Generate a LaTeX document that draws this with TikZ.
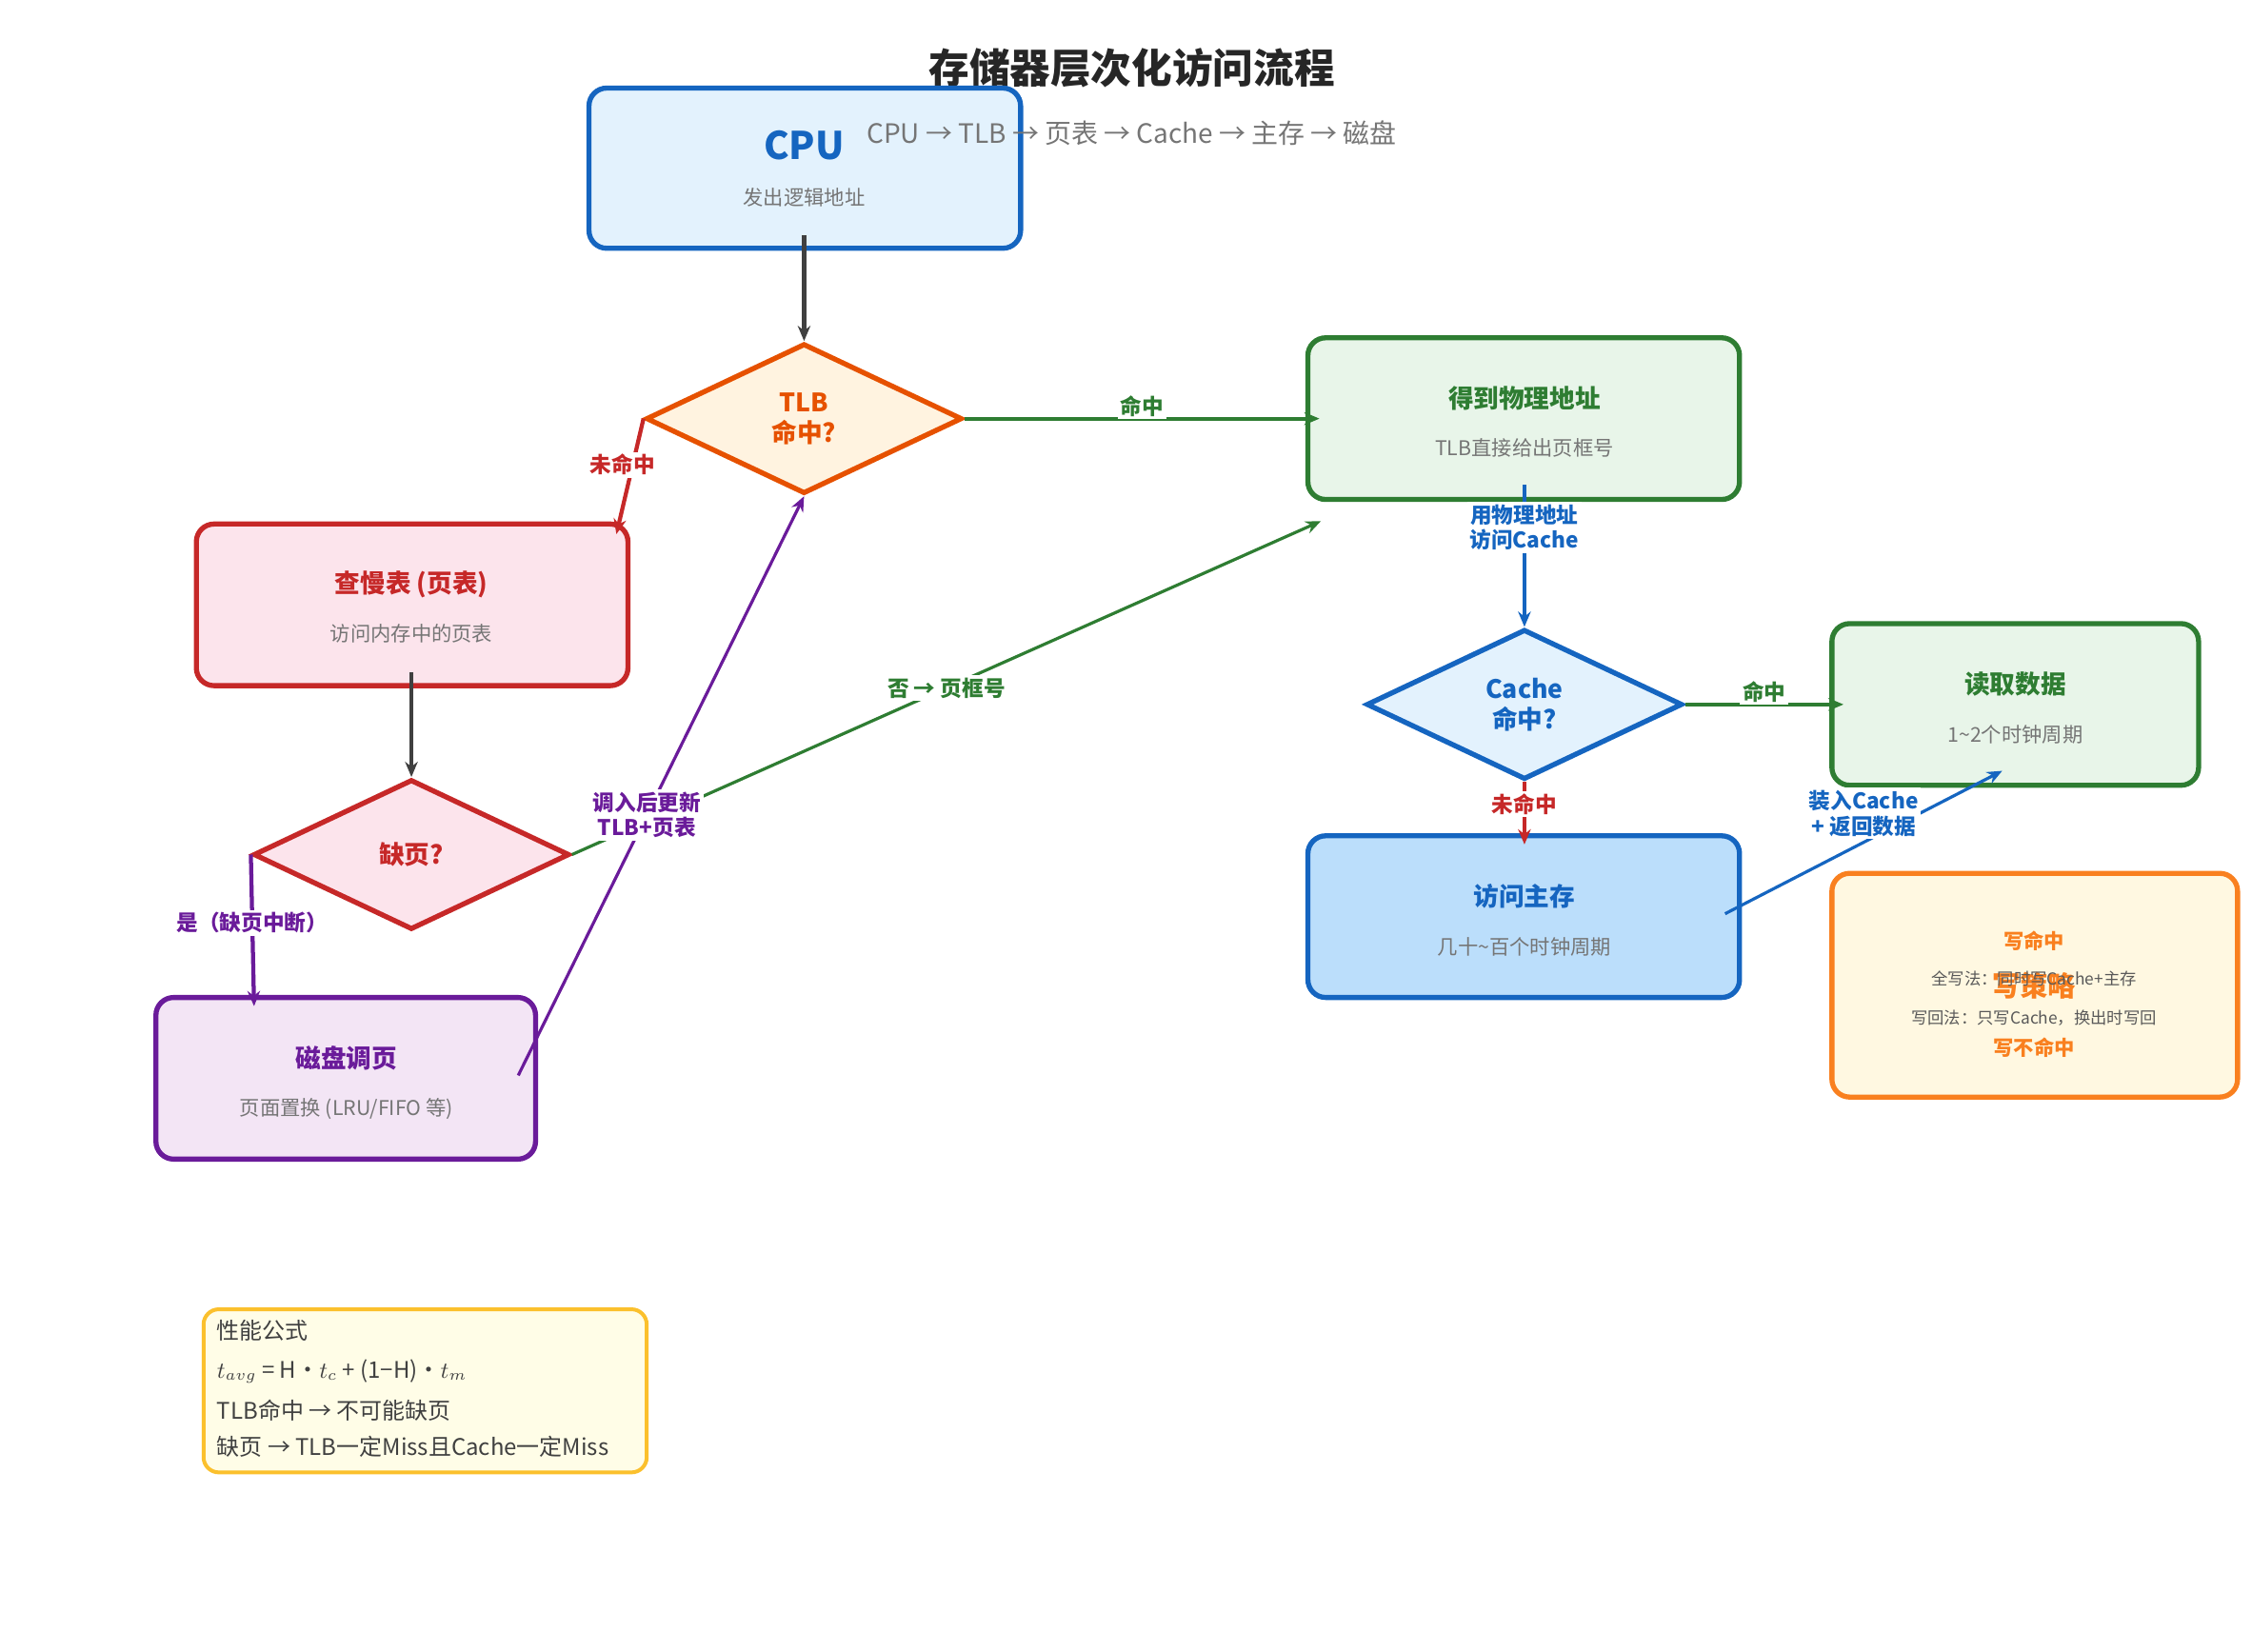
\documentclass[tikz,border=0pt]{standalone}
\usepackage{fontspec}
\setmainfont{Noto Sans CJK SC}
\usetikzlibrary{shapes.geometric,arrows.meta,calc}
\definecolor{cblue}{HTML}{1565C0}\definecolor{lblue}{HTML}{E3F2FD}\definecolor{mblue}{HTML}{BBDEFB}
\definecolor{cgreen}{HTML}{2E7D32}\definecolor{lgreen}{HTML}{E8F5E9}
\definecolor{cred}{HTML}{C62828}\definecolor{lred}{HTML}{FCE4EC}
\definecolor{corange}{HTML}{E65100}\definecolor{lorange}{HTML}{FFF3E0}
\definecolor{cpurple}{HTML}{6A1B9A}\definecolor{lpurple}{HTML}{F3E5F5}
\definecolor{cwo}{HTML}{F57F17}\definecolor{wo}{HTML}{F9801F}\definecolor{lwo}{HTML}{FFF8E1}
\definecolor{cyel}{HTML}{FBC02D}\definecolor{lyel}{HTML}{FFFDE7}
\definecolor{dgray}{HTML}{404040}\definecolor{tgray}{HTML}{757575}
\tikzset{
 box/.style={draw=#1,line width=2pt,rounded corners=7pt,inner sep=0pt},
 dia/.style={diamond,draw=#1,line width=2pt,aspect=2.1,inner sep=0pt,minimum width=4.38cm,minimum height=2.08cm,font=\fontsize{10}{12}\selectfont\bfseries,text=#1,align=center},
 ttl/.style={font=\fontsize{10}{12}\selectfont\bfseries,text=#1},
 sub/.style={font=\fontsize{8}{10}\selectfont,text=tgray},
 arr/.style={-{Stealth[length=6pt,width=5pt]},line width=1.6pt,draw=#1},
 lab/.style={fill=white,inner sep=1pt,font=\fontsize{8.5}{10}\selectfont\bfseries,text=#1,align=center},
}
\begin{document}
\begin{tikzpicture}[x=0.02cm,y=-0.02cm]
\useasboundingbox (0,0) rectangle (1560,1144);
\node[font=\fontsize{16}{18}\selectfont\bfseries,text=black!85] (title) at (784,47) {存储器层次化访问流程};
% CPU
\draw[box=cblue,fill=lblue] (408,61) rectangle (707,172);
\node[font=\fontsize{15}{17}\selectfont\bfseries,text=cblue] (cpu) at (557,101) {CPU};
\node[sub] (cpus) at (557,137) {发出逻辑地址};
\coordinate (cpub) at (557,163);
\node[font=\fontsize{10.5}{12}\selectfont,text=tgray] (subt) at (784,92) {CPU → TLB → 页表 → Cache → 主存 → 磁盘};
% TLB
\node[dia=corange,fill=lorange] (tlb) at (557,290) {TLB\\命中?};
% got physical
\draw[box=cgreen,fill=lgreen] (906,234) rectangle (1205,346);
\node[ttl=cgreen] (phys) at (1056,276) {得到物理地址};
\node[sub] (physs) at (1056,310) {TLB直接给出页框号};
\coordinate (physb) at (1056,336);
\coordinate (physl) at (914,290);
\coordinate (physbl) at (915,361);
% page table
\draw[box=cred,fill=lred] (136,363) rectangle (435,475);
\node[ttl=cred] (pt) at (285,405) {查慢表 (页表)};
\node[sub] (pts) at (285,439) {访问内存中的页表};
\coordinate (ptb) at (285,466);
\coordinate (ptt) at (427,370);
% page fault
\node[dia=cred,fill=lred] (pf) at (285,592) {缺页?};
% disk
\draw[box=cpurple,fill=lpurple] (108,691) rectangle (371,803);
\node[ttl=cpurple] (disk) at (240,733) {磁盘调页};
\node[sub] (disks) at (240,768) {页面置换 (LRU/FIFO 等)};
\coordinate (diskt) at (176,697);
\coordinate (diskr) at (359,745);
% cache
\node[dia=cblue,fill=lblue] (cache) at (1056,488) {Cache\\命中?};
% read
\draw[box=cgreen,fill=lgreen] (1269,432) rectangle (1523,544);
\node[ttl=cgreen] (rd) at (1396,474) {读取数据};
\node[sub] (rds) at (1396,509) {1\string~2个时钟周期};
\coordinate (rdl) at (1277,488);
\coordinate (rdb) at (1387,534);
% main memory
\draw[box=cblue,fill=mblue] (906,579) rectangle (1205,691);
\node[ttl=cblue] (mm) at (1056,621) {访问主存};
\node[sub] (mms) at (1056,656) {几十\string~百个时钟周期};
\coordinate (mmt) at (1056,585);
\coordinate (mmr) at (1195,633);
% write policy
\draw[box=wo,fill=lwo] (1269,605) rectangle (1550,760);
\node[font=\fontsize{8}{10}\selectfont\bfseries,text=wo] (wh) at (1409,652) {写命中};
\node[font=\fontsize{11}{13}\selectfont\bfseries,text=wo] (wp) at (1409,683) {写策略};
\node[font=\fontsize{6.5}{8}\selectfont,text=black!65] (w1) at (1409,678) {全写法：同时写Cache+主存};
\node[font=\fontsize{6.5}{8}\selectfont,text=black!65] (w2) at (1409,705) {写回法：只写Cache，换出时写回};
\node[font=\fontsize{8}{10}\selectfont\bfseries,text=wo] (wm) at (1409,726) {写不命中};
% formula
\draw[draw=cyel,fill=lyel,line width=1.5pt,rounded corners=6pt] (141,907) rectangle (448,1020);
\begin{scope}[every node/.style={anchor=west,font=\fontsize{9}{11}\selectfont,text=black!75,inner sep=0pt}]
\node (f1) at (150,922) {性能公式};
\node (f2) at (150,950) {$t_{avg}$ = H·$t_c$ + (1−H)·$t_m$};
\node (f3) at (150,977) {TLB命中 → 不可能缺页};
\node (f4) at (150,1002) {缺页 → TLB一定Miss且Cache一定Miss};
\end{scope}
% edges
\draw[arr=dgray] (cpub) -- (tlb.north);
\draw[arr=cgreen] (tlb.east) -- node[lab=cgreen,pos=0.5,yshift=5pt]{命中} (physl);
\draw[arr=cred] (tlb.west) -- node[lab=cred,pos=0.4,xshift=-4pt]{未命中} (ptt);
\draw[arr=cblue] (physb) -- node[lab=cblue,pos=0.3]{用物理地址\\访问Cache} (cache.north);
\draw[arr=cgreen] (cache.east) -- node[lab=cgreen,pos=0.5,yshift=5pt]{命中} (rdl);
\draw[arr=cred] (cache.south) -- node[lab=cred,pos=0.35]{未命中} (mmt);
\draw[arr=cblue,line width=1.2pt] (mmr) -- node[lab=cblue,pos=0.5,yshift=0.4cm]{装入Cache\\+ 返回数据} (rdb);
\draw[arr=dgray] (ptb) -- (pf.north);
\draw[arr=cgreen,line width=1.2pt] (pf.east) -- node[lab=cgreen,pos=0.5]{否 → 页框号} (physbl);
\draw[arr=cpurple] (pf.west) -- node[lab=cpurple,pos=0.45]{是（缺页中断）} (diskt);
\draw[arr=cpurple,line width=1.2pt] (diskr) -- node[lab=cpurple,pos=0.45]{调入后更新\\TLB+页表} (tlb.south);
\end{tikzpicture}
\end{document}
